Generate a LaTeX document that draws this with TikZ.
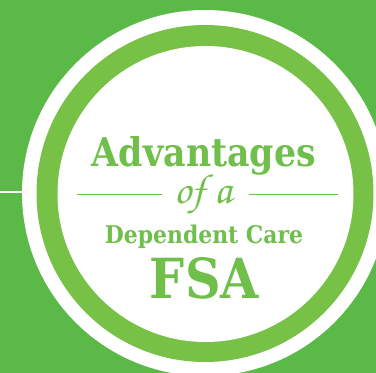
\documentclass[tikz,border=0pt]{standalone}
\usepackage{fontspec}
\usepackage{graphicx}
\newfontfamily\slabbold{DejaVu Serif}[BoldFont={DejaVu Serif Bold}]
\definecolor{bggreen}{HTML}{5BB948}
\definecolor{ringgreen}{HTML}{76C146}
\definecolor{txtgreen}{HTML}{6FBF4A}
\tikzset{
  titletext/.style={text=txtgreen, inner sep=0pt, anchor=base},
  ruleline/.style={draw=txtgreen, line width=0.9pt},
}
\begin{document}
\begin{tikzpicture}[x=1pt,y=-1pt]
\useasboundingbox (0,0) rectangle (376,373);
\fill[bggreen] (0,0) rectangle (376,373);
% outer white disc
\fill[white] (205,193) circle[radius=183];
% green ring
\fill[ringgreen] (205,193.5) circle[radius=168.5];
% inner white disc
\fill[white] (205.5,194) circle[radius=148];
% left white line
\coordinate (lstart) at (0,192);
\coordinate (lend) at (24,192);
\draw[white, line width=2pt] (lstart) -- (lend);
% texts
\node[titletext] (adv) at (204,166) {\resizebox{224pt}{30pt}{\slabbold\bfseries Advantages}};
\node[titletext] (ofa) at (203.5,203.5) {\resizebox{57pt}{!}{\fontsize{20}{24}\usefont{T1}{pzc}{mb}{it}of a}};
\node[titletext] (dep) at (204,243) {\resizebox{198pt}{18.5pt}{\slabbold\bfseries Dependent Care}};
\node[titletext] (fsa) at (204.5,298) {\resizebox{109pt}{41pt}{\slabbold\bfseries FSA}};
% rules beside "of a"
\coordinate (r1a) at (77,194);
\coordinate (r1b) at (162,194);
\coordinate (r2a) at (249,194);
\coordinate (r2b) at (338,194);
\draw[ruleline] (r1a) -- (r1b);
\draw[ruleline] (r2a) -- (r2b);
\end{tikzpicture}
\end{document}
